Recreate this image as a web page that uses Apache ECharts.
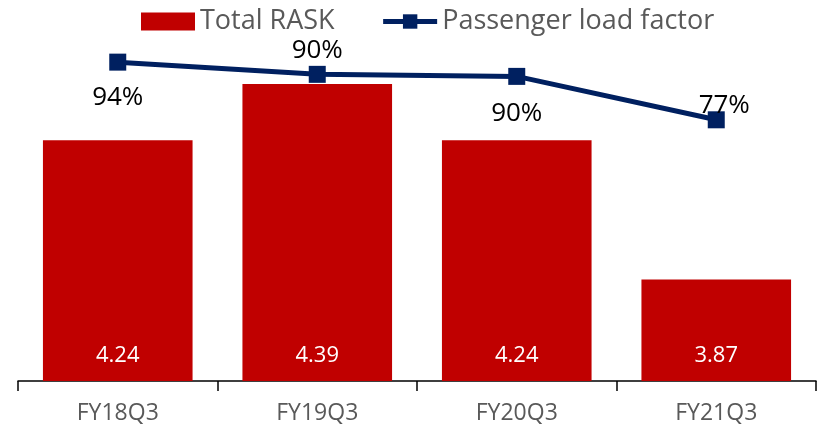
<!DOCTYPE html>
<html>
<head>
<meta charset="utf-8">
<script src="https://cdn.jsdelivr.net/npm/echarts@6/dist/echarts.min.js"></script>
<style>
  html, body { margin: 0; padding: 0; background: #fff; }
  #main { width: 819px; height: 430px; }
</style>
</head>
<body>
<div id="main"></div>
<script>
var categories = ['FY18Q3', 'FY19Q3', 'FY20Q3', 'FY21Q3'];
var raskValues = [4.24, 4.39, 4.24, 3.87];
var loadFactor = [94, 90.4, 89.8, 77];
var loadLabelPos = ['bottom', 'top', 'bottom', 'top'];
var loadLabelDist = [14, 2, 16, -7];

var FONT = '"Open Sans", sans-serif';

var myChart = echarts.init(document.getElementById('main'));

var lineData = loadFactor.map(function (v, i) {
    return {
        value: v,
        label: {
            position: loadLabelPos[i],
            distance: loadLabelDist[i],
            offset: i === 3 ? [8, 0] : [0, 0]
        }
    };
});

var option = {
    animation: false,
    textStyle: { fontFamily: FONT },
    legend: {
        top: 3,
        left: 136,
        itemWidth: 54,
        itemHeight: 18,
        itemGap: 46,
        textStyle: { fontSize: 27, color: '#595959', fontFamily: FONT },
        data: [
            { name: 'Total RASK', icon: 'rect' },
            { name: 'Passenger load factor', lineStyle: { width: 5, color: '#002060' } }
        ]
    },
    grid: { left: 18, right: 3, top: 35, bottom: 49 },
    xAxis: {
        type: 'category',
        data: categories,
        axisLine: { lineStyle: { color: '#000', width: 1.5 } },
        axisTick: { show: true, alignWithLabel: false, length: 10, lineStyle: { color: '#000', width: 1.5 } },
        axisLabel: { fontSize: 23, color: '#595959', margin: 21, fontFamily: FONT }
    },
    yAxis: [
        { type: 'value', min: 3.6, max: 4.52, show: false, splitLine: { show: false } },
        { type: 'value', min: 0, max: 102, show: false, splitLine: { show: false } }
    ],
    series: [
        {
            name: 'Total RASK',
            type: 'bar',
            barWidth: '75%',
            itemStyle: { color: '#C00000' },
            label: {
                show: true,
                position: 'insideBottom',
                distance: 14,
                color: '#fff',
                fontSize: 22,
                fontFamily: FONT,
                formatter: function (p) { return p.value.toFixed(2); }
            },
            data: raskValues
        },
        {
            name: 'Passenger load factor',
            type: 'line',
            yAxisIndex: 1,
            symbol: 'rect',
            symbolSize: 17,
            lineStyle: { color: '#002060', width: 5 },
            itemStyle: { color: '#002060' },
            label: {
                show: true,
                color: '#000',
                fontSize: 26,
                fontFamily: FONT,
                formatter: function (p) { return Math.round(p.value) + '%'; }
            },
            data: lineData
        }
    ]
};

myChart.setOption(option);
</script>
</body>
</html>
